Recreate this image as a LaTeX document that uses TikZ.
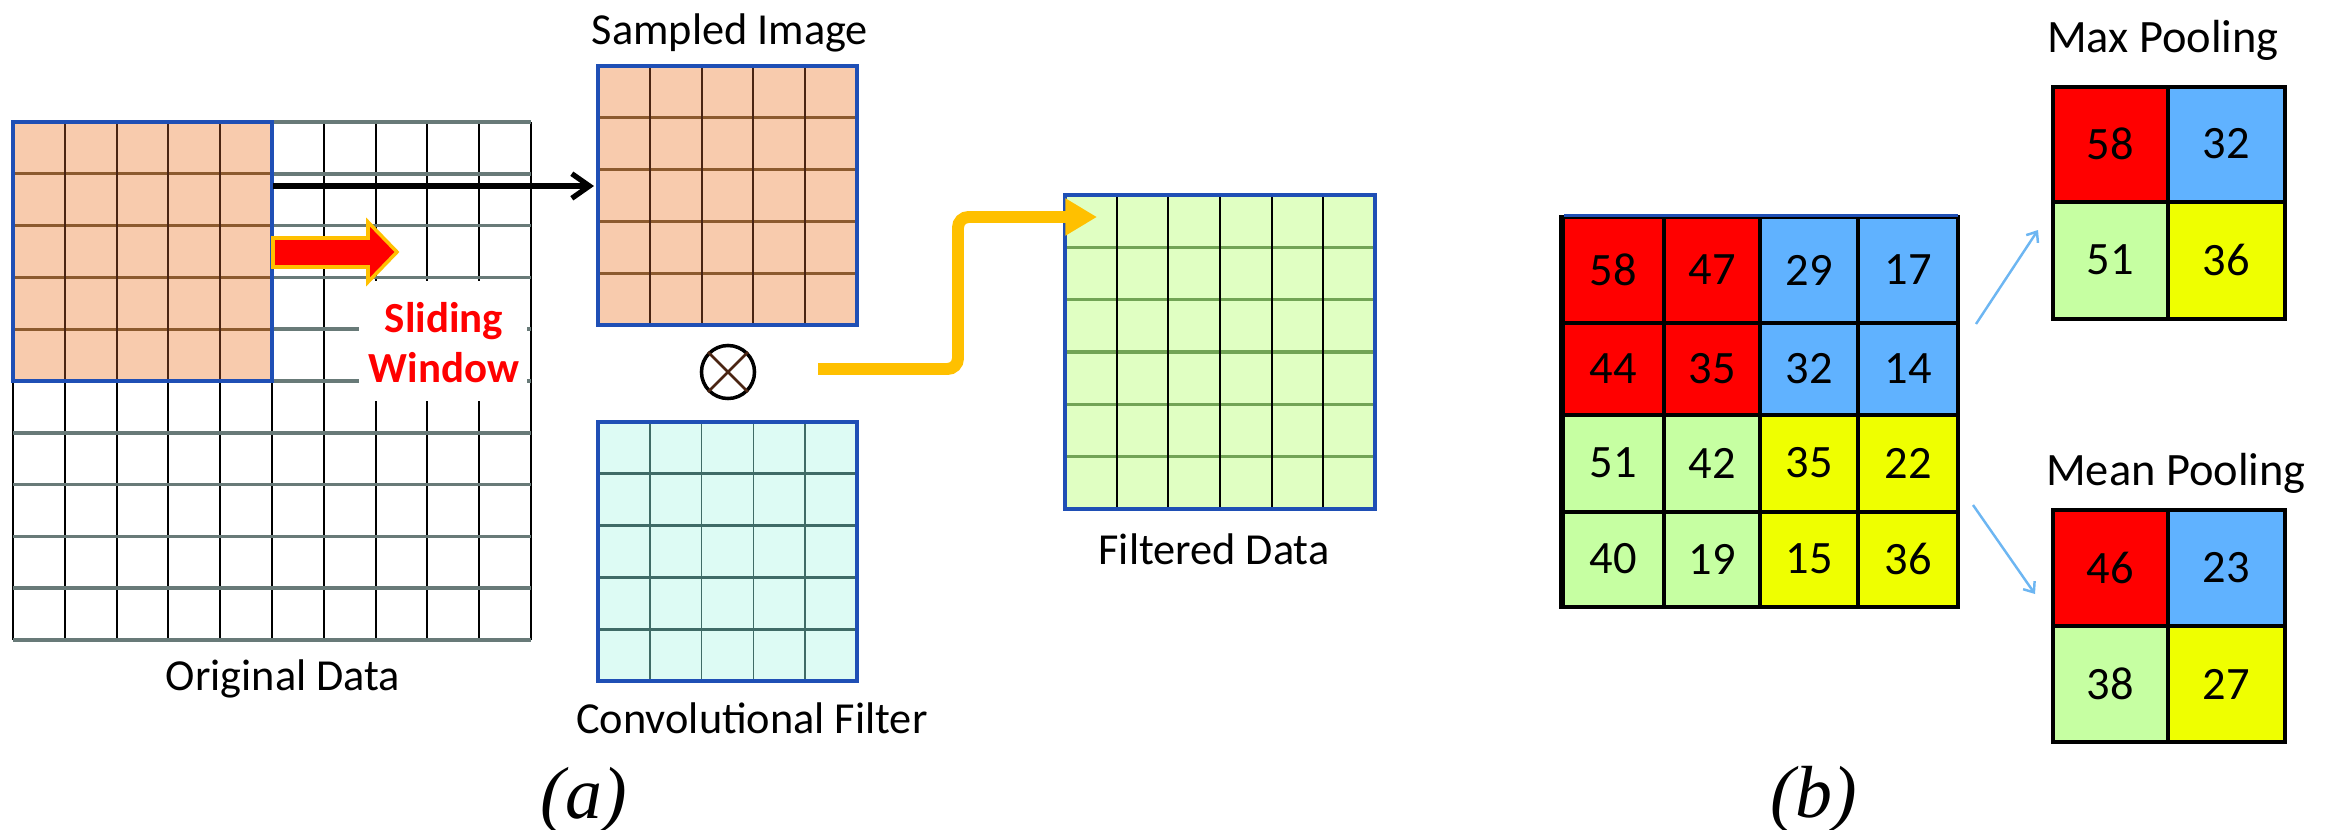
\documentclass[tikz,border=0pt]{standalone}
\usepackage{fontspec}
\setmainfont{Carlito}
\newfontfamily\capfont{Liberation Serif}
\usetikzlibrary{arrows.meta}
\definecolor{gridblue}{HTML}{1F4FB5}
\definecolor{peach}{HTML}{F8CBAD}
\definecolor{brownline}{HTML}{8C5A2E}
\definecolor{darkbrown}{HTML}{4A2412}
\definecolor{grayline}{HTML}{687A78}
\definecolor{mint}{HTML}{DDFBF4}
\definecolor{tealline}{HTML}{3F6B66}
\definecolor{lightgreen}{HTML}{E0FFC2}
\definecolor{greenline}{HTML}{72A455}
\definecolor{poolred}{HTML}{FF0000}
\definecolor{poolblue}{HTML}{60B2FF}
\definecolor{poolgreen}{HTML}{C6FFA2}
\definecolor{poolyellow}{HTML}{EFFF00}
\definecolor{arrowyellow}{HTML}{FFC000}
\definecolor{thinblue}{HTML}{6DB6F2}
\begin{document}
\begin{tikzpicture}[x=0.01cm,y=-0.01cm,
  hgray/.style={draw=grayline,line width=1pt},
  vblack/.style={draw=black,line width=0.55pt},
  hbrown/.style={draw=brownline,line width=0.95pt},
  vbrown/.style={draw=darkbrown,line width=0.55pt},
  hteal/.style={draw=tealline,line width=0.8pt},
  vteal/.style={draw=tealline,line width=0.5pt},
  hgreen/.style={draw=greenline,line width=1pt},
  bluebox/.style={draw=gridblue,line width=1pt},
  poolline/.style={draw=black,line width=0.9pt},
  lbl/.style={font=\fontsize{12.6}{14}\selectfont, anchor=base, inner sep=0pt},
  plbl/.style={font=\fontsize{13.2}{15}\selectfont, anchor=base, inner sep=0pt},
  slidetxt/.style={font=\fontsize{12.2}{14}\selectfont\bfseries, text=red, anchor=base, inner sep=0pt},
  num/.style={font=\fontsize{13.2}{15}\selectfont, inner sep=0pt},
  captxt/.style={font=\fontsize{21}{24}\selectfont\capfont\itshape, anchor=base, inner sep=0pt},
  blackarrow/.style={draw=black,line width=1.5pt,-{Straight Barb[length=5pt,width=7pt]}},
  yellowarrow/.style={draw=arrowyellow,line width=3.4pt,-{Triangle[length=9pt,width=10pt]}},
  thinarrow/.style={draw=thinblue,line width=0.7pt,-{Straight Barb[length=2.5pt,width=4pt]}}
]
\useasboundingbox (0,0) rectangle (2329,830);

% ---------- Original data grid ----------
\foreach \j in {0,...,10} \draw[vblack] ({13+\j*51.8},122) -- ({13+\j*51.8},640);
\foreach \i in {0,...,10} \draw[hgray] (13,{122+\i*51.8}) -- (531,{122+\i*51.8});
\fill[white] (359,281) rectangle (527,401);

% sliding window (orange)
\fill[peach] (13,122) rectangle (272,381);
\foreach \i in {1,...,4} \draw[hbrown] (13,{122+\i*51.8}) -- (272,{122+\i*51.8});
\foreach \j in {1,...,4} \draw[vbrown] ({13+\j*51.8},122) -- ({13+\j*51.8},381);
\draw[bluebox] (13,122) rectangle (272,381);
\coordinate (winE) at (273,186);

% red block arrow
\filldraw[fill=red, draw=arrowyellow, line width=1pt, line join=miter]
  (273,238) -- (368,238) -- (368,222) -- (397,252) -- (368,282) -- (368,267) -- (273,267) -- cycle;

\node[slidetxt] (sl1) at (444,332) {Sliding};
\node[slidetxt] (sl2) at (444,382) {Window};
\node[lbl] (orig) at (283,690) {Original Data};

% ---------- Sampled image ----------
\begin{scope}[shift={(598,66)}]
\fill[peach] (0,0) rectangle (259,259);
\foreach \i in {1,...,4} \draw[hbrown] (0,{\i*51.8}) -- (259,{\i*51.8});
\foreach \j in {1,...,4} \draw[vbrown] ({\j*51.8},0) -- ({\j*51.8},259);
\draw[bluebox] (0,0) rectangle (259,259);
\end{scope}
\coordinate (sampW) at (594,186);
\node[lbl] (samp) at (730,44) {Sampled Image};
\draw[blackarrow] (winE) -- (sampW);

% ---------- otimes ----------
\node[circle, draw, line width=1pt, minimum size=0.53cm, inner sep=0pt] (otimes) at (728,372) {};
\draw[line width=0.75pt, draw=darkbrown] (otimes.north west) -- (otimes.south east);
\draw[line width=0.75pt, draw=darkbrown] (otimes.north east) -- (otimes.south west);

% ---------- Convolutional filter ----------
\begin{scope}[shift={(598,422)}]
\fill[mint] (0,0) rectangle (259,259);
\foreach \i in {1,...,4} \draw[hteal] (0,{\i*51.8}) -- (259,{\i*51.8});
\foreach \j in {1,...,4} \draw[vteal] ({\j*51.8},0) -- ({\j*51.8},259);
\draw[bluebox] (0,0) rectangle (259,259);
\end{scope}
\node[lbl] (conv) at (752,733) {Convolutional Filter};

% ---------- Filtered data ----------
\begin{scope}[shift={(1065,195)}]
\fill[lightgreen] (0,0) rectangle (310,314);
\foreach \i in {1,...,5} \draw[hgreen] (0,{\i*52.33}) -- (310,{\i*52.33});
\foreach \j in {1,...,5} \draw[vblack] ({\j*51.67},0) -- ({\j*51.67},314);
\draw[bluebox] (0,0) rectangle (310,314);
\end{scope}
\node[lbl] (filt) at (1214,564) {Filtered Data};

\coordinate (ystart) at (818,369);
\coordinate (filtTip) at (1097,217);
\draw[yellowarrow, rounded corners=3pt] (ystart) -- (958,369) -- (958,217) -- (filtTip);

% ---------- Pooling input grid ----------
\fill[poolred] (1562,217) rectangle (1760,415);
\fill[poolblue] (1760,217) rectangle (1958,415);
\fill[poolgreen] (1562,415) rectangle (1760,607);
\fill[poolyellow] (1760,415) rectangle (1958,607);
\foreach \x in {1664,1760,1858} \draw[poolline] (\x,217) -- (\x,607);
\foreach \y in {323,415,512} \draw[poolline] (1562,\y) -- (1958,\y);
\draw[draw=black,line width=1.2pt] (1562,217) rectangle (1958,607);
\draw[draw=black,line width=1.7pt] (1562,215) -- (1562,609);
\draw[draw=gridblue,line width=0.6pt] (1564,215.5) -- (1958,215.5);

\node[num] (p11) at (1613,270) {58};
\node[num] (p12) at (1712,270) {47};
\node[num] (p13) at (1809,270) {29};
\node[num] (p14) at (1908,270) {17};
\node[num] (p21) at (1613,369) {44};
\node[num] (p22) at (1712,369) {35};
\node[num] (p23) at (1809,369) {32};
\node[num] (p24) at (1908,369) {14};
\node[num] (p31) at (1613,463) {51};
\node[num] (p32) at (1712,463) {42};
\node[num] (p33) at (1809,463) {35};
\node[num] (p34) at (1908,463) {22};
\node[num] (p41) at (1613,559) {40};
\node[num] (p42) at (1712,559) {19};
\node[num] (p43) at (1809,559) {15};
\node[num] (p44) at (1908,559) {36};

% ---------- Max pooling ----------
\node[plbl] (maxl) at (2163,52) {Max Pooling};
\fill[poolred] (2053,87) rectangle (2168,202);
\fill[poolblue] (2168,87) rectangle (2285,202);
\fill[poolgreen] (2053,202) rectangle (2168,319);
\fill[poolyellow] (2168,202) rectangle (2285,319);
\draw[draw=black,line width=1.4pt] (2053,87) rectangle (2285,319);
\draw[draw=black,line width=1.4pt] (2168,87) -- (2168,319) (2053,202) -- (2285,202);
\node[num] (m11) at (2110,144) {58};
\node[num] (m12) at (2226,144) {32};
\node[num] (m21) at (2110,260) {51};
\node[num] (m22) at (2226,260) {36};

% ---------- Mean pooling ----------
\node[plbl] (meanl) at (2176,485) {Mean Pooling};
\fill[poolred] (2053,510) rectangle (2168,626);
\fill[poolblue] (2168,510) rectangle (2285,626);
\fill[poolgreen] (2053,626) rectangle (2168,742);
\fill[poolyellow] (2168,626) rectangle (2285,742);
\draw[draw=black,line width=1.4pt] (2053,510) rectangle (2285,742);
\draw[draw=black,line width=1.4pt] (2168,510) -- (2168,742) (2053,626) -- (2285,626);
\node[num] (a11) at (2110,568) {46};
\node[num] (a12) at (2226,568) {23};
\node[num] (a21) at (2110,684) {38};
\node[num] (a22) at (2226,684) {27};

% thin arrows
\coordinate (poolA) at (1976,324);
\coordinate (maxIn) at (2038,230);
\coordinate (poolB) at (1973,505);
\coordinate (meanIn) at (2035,594);
\draw[thinarrow] (poolA) -- (maxIn);
\draw[thinarrow] (poolB) -- (meanIn);

% captions
\node[captxt] (capa) at (584,818) {(a)};
\node[captxt] (capb) at (1814,817) {(b)};
\end{tikzpicture}
\end{document}
